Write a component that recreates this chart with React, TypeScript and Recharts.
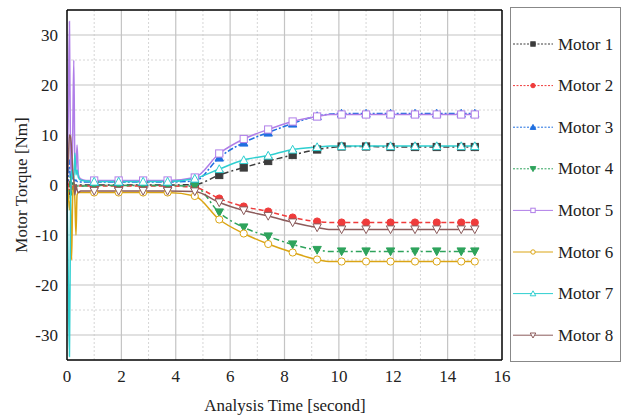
import React from "react";
import {
  LineChart,
  Line,
  XAxis,
  YAxis,
  ReferenceLine,
} from "recharts";

// time samples in seconds (dense at start for the transient spikes)
const time = [
  0, 0.05, 0.09, 0.13, 0.17, 0.21, 0.25, 0.29, 0.33, 0.37, 0.42, 0.5, 0.7,
  1.0, 1.9, 2.8, 3.7, 4.7, 5.6, 6.5, 7.4, 8.3, 9.2, 9.7, 10.1, 11.0, 11.9,
  12.8, 13.6, 14.5, 15.0,
];
const markerTimes = [
  1.0, 1.9, 2.8, 3.7, 4.7, 5.6, 6.5, 7.4, 8.3, 9.2, 10.1, 11.0, 11.9, 12.8,
  13.6, 14.5, 15.0,
];

const motor1 = [0, 1, -2, 1, -1, 0.5, 0, -0.5, 0, 0, 0, 0, 0, 0, 0, 0, 0, 0.1, 2.0, 3.5, 4.8, 6.0, 7.1, 7.5, 7.7, 7.7, 7.6, 7.6, 7.6, 7.6, 7.6];
const motor2 = [0, -1, 1, -2, 0, -1, 0, 0, -0.2, -0.2, -0.2, -0.2, -0.2, -0.2, -0.2, -0.2, -0.2, -0.5, -2.7, -4.3, -5.3, -6.5, -7.3, -7.5, -7.5, -7.5, -7.5, -7.5, -7.5, -7.5, -7.5];
const motor3 = [0, 2, 5, 1, 2, 1, 1.5, 0.8, 1, 0.7, 0.6, 0.6, 0.6, 0.6, 0.6, 0.6, 0.6, 0.8, 5.5, 8.5, 10.5, 12.3, 13.8, 14.2, 14.3, 14.3, 14.3, 14.3, 14.3, 14.3, 14.3];
const motor4 = [0, -3, -1, 2, -2, 0, 0.5, -0.3, -0.2, -0.2, -0.2, -0.2, -0.2, -0.1, -0.1, -0.1, -0.1, -0.3, -5.5, -8.5, -10.3, -11.9, -13.0, -13.3, -13.3, -13.3, -13.3, -13.3, -13.3, -13.3, -13.3];
const motor5 = [0, 15, 32.7, 5, 2, 10, 25, 4, 3, 8, 2, 1.2, 0.9, 0.9, 0.9, 0.9, 0.9, 1.5, 6.3, 9.2, 11.1, 12.7, 13.7, 14.1, 14.1, 14.1, 14.1, 14.1, 14.1, 14.1, 14.1];
const motor6 = [0, -2, -5, -3, -15, -2, 0, -3, -10, -2, -1.5, -1.5, -1.5, -1.5, -1.5, -1.5, -1.5, -2.2, -6.9, -9.7, -11.8, -13.5, -14.9, -15.3, -15.3, -15.3, -15.3, -15.3, -15.3, -15.3, -15.3];
const motor7 = [0, -20, -34.3, -5, 3, 2, 1, 6.4, 2, 3, 1.5, 1, 0.8, 0.7, 0.7, 0.7, 0.7, 1.3, 3.2, 5.0, 5.9, 7.1, 7.6, 7.8, 7.8, 7.8, 7.8, 7.8, 7.8, 7.8, 7.8];
const motor8 = [0, 5, 10, 9.7, 7, 3, 1, -2, 0, -1, -1.5, -1.2, -1.2, -1.2, -1.2, -1.2, -1.2, -1.3, -3.5, -5.1, -6.2, -7.5, -8.5, -8.9, -8.9, -8.9, -8.9, -8.9, -8.9, -8.9, -8.9];

const xMajor = [0, 2, 4, 6, 8, 10, 12, 14, 16];
const xMinor = [1, 3, 5, 7, 9, 11, 13, 15];
const yMajor = [-30, -20, -10, 0, 10, 20, 30];
const yMinor = [-35, -25, -15, -5, 5, 15, 25, 35];

const series = [
  { key: "m1", name: "Motor 1", values: motor1, color: "#3c3c3c", dash: "6 3 2 3", shape: "square", filled: true },
  { key: "m2", name: "Motor 2", values: motor2, color: "#ef3b3b", dash: "5 3", shape: "circle", filled: true },
  { key: "m3", name: "Motor 3", values: motor3, color: "#1f6fe0", dash: "6 2 2 2", shape: "up", filled: true },
  { key: "m4", name: "Motor 4", values: motor4, color: "#2ea35c", dash: "6 3 2 3", shape: "down", filled: true },
  { key: "m5", name: "Motor 5", values: motor5, color: "#b07ee8", dash: undefined, shape: "square", filled: false },
  { key: "m6", name: "Motor 6", values: motor6, color: "#dba514", dash: undefined, shape: "circle", filled: false },
  { key: "m7", name: "Motor 7", values: motor7, color: "#2ecfd0", dash: undefined, shape: "up", filled: false },
  { key: "m8", name: "Motor 8", values: motor8, color: "#8c5c5c", dash: undefined, shape: "down", filled: false },
];

const data = time.map((t, i) => {
  const row: any = { t };
  series.forEach((s) => (row[s.key] = s.values[i]));
  return row;
});

const FONT = "'Times New Roman', Tinos, 'Liberation Serif', 'DejaVu Serif', 'Noto Serif', serif";

function Marker({ x, y, shape, color, filled, r = 3.6 }: any) {
  const fill = filled ? color : "#fff";
  if (shape === "square")
    return <rect x={x - r} y={y - r} width={r * 2} height={r * 2} fill={fill} stroke={color} strokeWidth={1} />;
  if (shape === "circle") return <circle cx={x} cy={y} r={r} fill={fill} stroke={color} strokeWidth={1} />;
  if (shape === "up")
    return <polygon points={`${x},${y - r - 0.6} ${x - r - 0.6},${y + r} ${x + r + 0.6},${y + r}`} fill={fill} stroke={color} strokeWidth={1} />;
  return <polygon points={`${x},${y + r + 0.6} ${x - r - 0.6},${y - r} ${x + r + 0.6},${y - r}`} fill={fill} stroke={color} strokeWidth={1} />;
}

function makeDot(s: any) {
  return (props: any) => {
    const { cx, cy, payload, index } = props;
    if (!markerTimes.includes(payload.t)) return <g key={`${s.key}-${index}`} />;
    return (
      <g key={`${s.key}-${index}`}>
        <Marker x={cx} y={cy} shape={s.shape} color={s.color} filled={s.filled} />
      </g>
    );
  };
}

function LegendBox() {
  return (
    <svg width={112} height={356} style={{ position: "absolute", left: 510, top: 7 }}>
      <rect x={0.5} y={0.5} width={110} height={354} fill="#fff" stroke="#888" strokeWidth={1} />
      {series.map((s, i) => {
        const y = 37 + i * 41.6;
        return (
          <g key={s.key}>
            <line x1={3} x2={43} y1={y} y2={y} stroke={s.color} strokeWidth={1} strokeDasharray={s.dash ? "2 1.5" : undefined} />
            <Marker x={23} y={y} shape={s.shape} color={s.color} filled={s.filled} r={2.2} />
            <text x={48} y={y + 5.5} style={{ fontFamily: FONT }} fontSize={17} fill="#222">
              {s.name}
            </text>
          </g>
        );
      })}
    </svg>
  );
}

export default function App() {
  const tickStyle = { fontSize: 17, fill: "#222", style: { fontFamily: FONT } };
  return (
    <div style={{ position: "absolute", left: 0, top: 0, width: 628, height: 420, background: "#fff", fontFamily: FONT }}>
      <LineChart width={628} height={420} data={data} margin={{ top: 10, right: 126, bottom: 30, left: 17 }} style={{ fontFamily: FONT }}>
        <XAxis dataKey="t" type="number" domain={[0, 16]} ticks={xMajor} tick={tickStyle} tickLine={false} tickMargin={4} axisLine={{ stroke: "#000", strokeWidth: 1.5 }} allowDataOverflow />
        <XAxis xAxisId="bM" orientation="bottom" mirror type="number" domain={[0, 16]} ticks={xMajor} tick={false} tickSize={6} axisLine={false} tickLine={{ stroke: "#000", strokeWidth: 1.5 }} allowDataOverflow />
        <XAxis xAxisId="bm" orientation="bottom" mirror type="number" domain={[0, 16]} ticks={xMinor} tick={false} tickSize={4} axisLine={false} tickLine={{ stroke: "#000", strokeWidth: 1.2 }} allowDataOverflow />
        <XAxis xAxisId="tM" orientation="top" mirror type="number" domain={[0, 16]} ticks={xMajor} tick={false} tickSize={6} axisLine={{ stroke: "#000", strokeWidth: 1.5 }} tickLine={{ stroke: "#000", strokeWidth: 1.5 }} allowDataOverflow />
        <XAxis xAxisId="tm" orientation="top" mirror type="number" domain={[0, 16]} ticks={xMinor} tick={false} tickSize={4} axisLine={false} tickLine={{ stroke: "#000", strokeWidth: 1.2 }} allowDataOverflow />

        <YAxis type="number" domain={[-35, 35]} ticks={yMajor} width={50} tick={tickStyle} tickLine={false} tickMargin={3} axisLine={{ stroke: "#000", strokeWidth: 1.5 }} allowDataOverflow />
        <YAxis yAxisId="lM" orientation="left" mirror type="number" domain={[-35, 35]} ticks={yMajor} tick={false} tickSize={6} axisLine={false} tickLine={{ stroke: "#000", strokeWidth: 1.5 }} allowDataOverflow />
        <YAxis yAxisId="lm" orientation="left" mirror type="number" domain={[-35, 35]} ticks={yMinor} tick={false} tickSize={4} axisLine={false} tickLine={{ stroke: "#000", strokeWidth: 1.2 }} allowDataOverflow />
        <YAxis yAxisId="rM" orientation="right" mirror type="number" domain={[-35, 35]} ticks={yMajor} tick={false} tickSize={6} axisLine={{ stroke: "#000", strokeWidth: 1.5 }} tickLine={{ stroke: "#000", strokeWidth: 1.5 }} allowDataOverflow />
        <YAxis yAxisId="rm" orientation="right" mirror type="number" domain={[-35, 35]} ticks={yMinor} tick={false} tickSize={4} axisLine={false} tickLine={{ stroke: "#000", strokeWidth: 1.2 }} allowDataOverflow />

        {xMinor.map((v) => (
          <ReferenceLine key={`xm${v}`} x={v} stroke="#d6d6d6" strokeDasharray="2 2" />
        ))}
        {yMinor.slice(1, -1).map((v) => (
          <ReferenceLine key={`ym${v}`} y={v} stroke="#d6d6d6" strokeDasharray="2 2" />
        ))}
        {xMajor.slice(1, -1).map((v) => (
          <ReferenceLine key={`xM${v}`} x={v} stroke="#c4c4c4" strokeWidth={1.2} />
        ))}
        {yMajor.map((v) => (
          <ReferenceLine key={`yM${v}`} y={v} stroke="#c4c4c4" strokeWidth={1.2} />
        ))}

        {series.map((s) => (
          <Line
            key={s.key}
            dataKey={s.key}
            name={s.name}
            type="monotone"
            stroke={s.color}
            strokeWidth={1.5}
            strokeDasharray={s.dash}
            dot={makeDot(s)}
            activeDot={false}
            isAnimationActive={false}
          />
        ))}
      </LineChart>

      <LegendBox />

      <div style={{ position: "absolute", left: 0, width: 570, top: 395, textAlign: "center", fontSize: 17, lineHeight: "22px", color: "#222" }}>
        Analysis Time [second]
      </div>
      <div style={{ position: "absolute", left: -128, top: 174, width: 300, height: 22, transform: "rotate(-90deg)", textAlign: "center", fontSize: 17, lineHeight: "22px", color: "#222" }}>
        Motor Torque [Nm]
      </div>
    </div>
  );
}
